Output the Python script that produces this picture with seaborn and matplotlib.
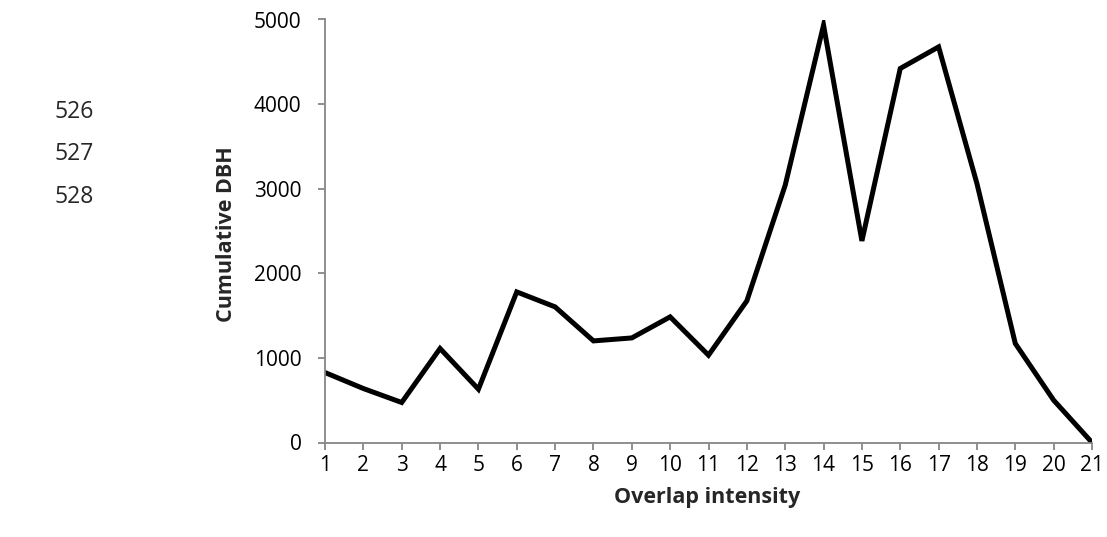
import matplotlib
matplotlib.use("Agg")
import matplotlib.pyplot as plt
import seaborn as sns
import pandas as pd

overlap = list(range(1, 22))
cum_dbh = [827, 638, 473, 1111, 630, 1780, 1603, 1201, 1236, 1485, 1032,
           1674, 3041, 4933, 2383, 4421, 4676, 3060, 1170, 500, 0]
line_numbers = ["526", "527", "528"]
y_ticks = [0, 1000, 2000, 3000, 4000, 5000]

sns.set_theme(style="white")
plt.rcParams['font.family'] = ['Open Sans', 'DejaVu Sans']

df = pd.DataFrame({"Overlap intensity": overlap, "Cumulative DBH": cum_dbh})

W, H = 1107, 537
fig = plt.figure(figsize=(W / 100, H / 100), dpi=100)
ax = fig.add_axes([325 / W, 1 - 442.5 / H, (1092 - 325) / W, (442.5 - 19.5) / H])
sns.lineplot(data=df, x="Overlap intensity", y="Cumulative DBH", ax=ax,
             color="black", linewidth=3.6, solid_joinstyle="miter")

ax.set_xlim(1, 21)
ax.set_ylim(0, 5000)
ax.set_xticks(overlap)
ax.set_xticklabels([str(v) for v in overlap], fontsize=15)
ax.set_yticks(y_ticks)
ax.set_yticklabels([str(v) for v in y_ticks], fontsize=15)
for s in ["top", "right"]:
    ax.spines[s].set_visible(False)
for s in ["left", "bottom"]:
    ax.spines[s].set_color("#868686")
    ax.spines[s].set_linewidth(1.3)
ax.tick_params(axis="both", direction="out", length=5, width=1.3, color="#868686",
               labelcolor="black", left=True, bottom=True)
ax.tick_params(axis="x", pad=4)
ax.tick_params(axis="y", pad=12)
ax.set_xlabel("")
ax.set_ylabel("")
fig.text(707 / W, 1 - 498 / H, "Overlap intensity", fontsize=15.5,
         fontweight="bold", ha="center", va="center")
fig.text(226 / W, 1 - 234 / H, "Cumulative DBH", fontsize=15.5,
         fontweight="bold", ha="center", va="center", rotation=90)

for i, t in enumerate(line_numbers):
    fig.text(55 / W, 1 - (112 + 42.5 * i) / H, t, fontsize=16.5, va="center", ha="left")

fig.savefig("out.png", dpi=100)
